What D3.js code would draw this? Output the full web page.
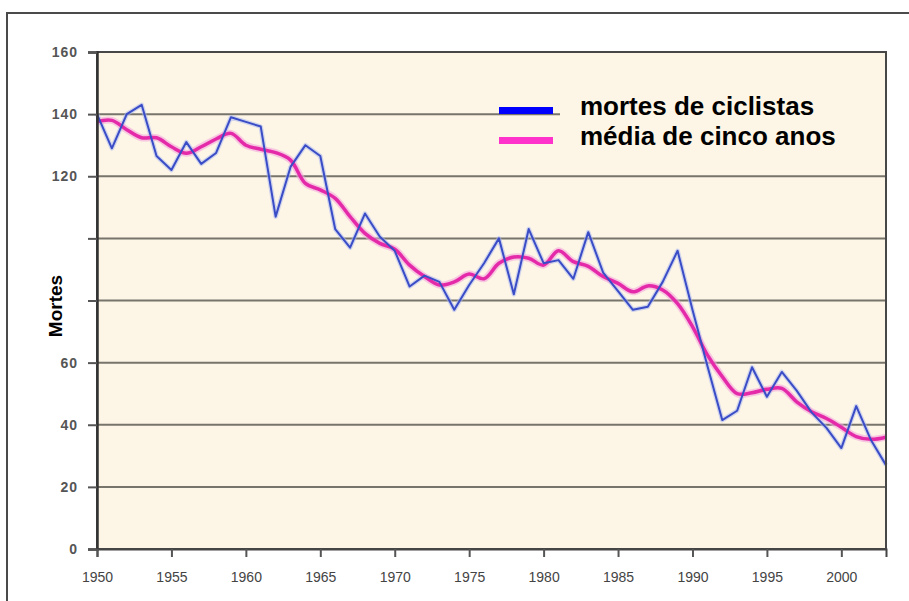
<!DOCTYPE html>
<html>
<head>
<meta charset="utf-8">
<script src="https://cdn.jsdelivr.net/npm/d3@7/dist/d3.min.js"></script>
<style>
  body { margin: 0; background: #fff; }
  svg { display: block; font-family: "Liberation Sans", Arial, sans-serif; }
</style>
</head>
<body>
<div class="chart"></div>
<script>
// 資料: 每年自行車死亡人數 + 五年平均
const years = [1950,1951,1952,1953,1954,1955,1956,1957,1958,1959,
               1960,1961,1962,1963,1964,1965,1966,1967,1968,1969,
               1970,1971,1972,1973,1974,1975,1976,1977,1978,1979,
               1980,1981,1982,1983,1984,1985,1986,1987,1988,1989,
               1990,1991,1992,1993,1994,1995,1996,1997,1998,1999,
               2000,2001,2002,2003];
const deaths = [140,129,140,143,126.5,122,131,124,127.5,139,
                137.5,136,107,123,130,126.5,103,97,108,100.5,
                96,84.5,88,86,77,85,92,100,82,103,
                92,93,87,102,89,83,77,78,86,96,
                77,59,41.5,44.5,58.5,49,57,51,44,39,
                32.5,46,35,27];
const avg5 = [137.6,138,135,132.4,132.4,129.5,127.4,129.5,132,133.8,
              130,128.7,127.6,125.2,117.7,115.6,112.9,107,101.6,98.4,
              96.5,91.4,87.7,85,86,88.5,87,92,94,93.6,
              91.4,96,92.5,91,87.7,85.5,82.8,84.7,83.4,79,
              71.6,62.5,55.5,50,50.3,51.4,51.7,47.4,44.2,42,
              39.2,36.2,35.3,36];
const yTicks = [0,20,40,60,80,100,120,140,160];
const yTickLabels = ['0','20','40','60','','','120','140','160'];   // 80,100 在原圖看不到
const xTicks = [1950,1955,1960,1965,1970,1975,1980,1985,1990,1995,2000];
const seriesNames = ['mortes de ciclistas','média de cinco anos'];
const yTitle = 'Mortes';

const svg_width = 909, svg_height = 601;
const plot = {left: 97, right: 886, top: 52, bottom: 549};

const svg = d3.select('.chart').append('svg')
              .attr('width', svg_width).attr('height', svg_height);

// 外框
svg.append('path')
   .attr('d', `M7,${svg_height} L7,13 L${svg_width},13`)
   .attr('fill','none').attr('stroke','#4a4a4a').attr('stroke-width',2);

const xScale = d3.scaleLinear([1950, 2003], [plot.left, plot.right]);
const yScale = d3.scaleLinear([0, 160], [plot.bottom, plot.top]);

// 背景
svg.append('rect')
   .attr('x', plot.left).attr('y', plot.top)
   .attr('width', plot.right - plot.left).attr('height', plot.bottom - plot.top)
   .attr('fill', '#fdf5e5');

// grid
svg.append('g').selectAll('line')
   .data(yTicks.filter(d => d > 0 && d < 160))
   .join('line')
   .attr('x1', plot.left).attr('x2', plot.right)
   .attr('y1', d => yScale(d)).attr('y2', d => yScale(d))
   .attr('stroke', '#77746c').attr('stroke-width', 2);

// 圖例底色蓋住 gridline
svg.append('rect')
   .attr('x', 560).attr('y', 64).attr('width', plot.right - 561).attr('height', 94)
   .attr('fill', '#fdf5e5');

// lines
const line = d3.line().x((d, i) => xScale(years[i])).y(d => yScale(d));
const smooth = d3.line().x((d, i) => xScale(years[i])).y(d => yScale(d))
                 .curve(d3.curveCatmullRom.alpha(0.5));

const lines = svg.append('g');
lines.append('path').datum(deaths).attr('d', line)
     .attr('fill','none').attr('stroke','#a9b8f2').attr('stroke-width',4.5)
     .attr('stroke-opacity',0.55).attr('stroke-linejoin','round');
lines.append('path').datum(avg5).attr('d', smooth)
     .attr('fill','none').attr('stroke','#f4a6dc').attr('stroke-width',7)
     .attr('stroke-opacity',0.6).attr('stroke-linejoin','round');
lines.append('path').datum(avg5).attr('d', smooth)
     .attr('fill','none').attr('stroke','#e42aa8').attr('stroke-width',3.5)
     .attr('stroke-linejoin','round');
lines.append('path').datum(deaths).attr('d', line)
     .attr('fill','none').attr('stroke','#3a4cc6').attr('stroke-width',2)
     .attr('stroke-linejoin','round');

// plot 邊框
svg.append('rect')
   .attr('x', plot.left).attr('y', plot.top)
   .attr('width', plot.right - plot.left).attr('height', plot.bottom - plot.top)
   .attr('fill','none').attr('stroke','#474747').attr('stroke-width',2);

// axes
const yAxis = d3.axisLeft(yScale).tickValues(yTicks)
                .tickFormat((d, i) => yTickLabels[i])
                .tickSize(9).tickPadding(10);
const yAxisDraw = svg.append('g').attr('transform', `translate(${plot.left},0)`).call(yAxis);
yAxisDraw.select('.domain').attr('stroke','#333').attr('stroke-width',2.5);
yAxisDraw.selectAll('.tick line').attr('stroke','#555').attr('stroke-width',2);
yAxisDraw.selectAll('text')
         .style('font-size','14px').style('font-weight','bold')
         .style('letter-spacing','1px').attr('fill','#555')
         .style('font-family','"Liberation Sans", Arial, sans-serif');

const xAxis = d3.axisBottom(xScale).tickValues(xTicks)
                .tickFormat(d3.format('d'))
                .tickSize(8).tickPadding(15);
const xAxisDraw = svg.append('g').attr('transform', `translate(0,${plot.bottom})`).call(xAxis);
xAxisDraw.select('.domain').attr('stroke','#444').attr('stroke-width',2);
xAxisDraw.selectAll('.tick line').attr('stroke','#555').attr('stroke-width',2);
xAxisDraw.selectAll('text')
         .style('font-size','14px').attr('fill','#444')
         .style('font-family','"Liberation Sans", Arial, sans-serif');

// y title
svg.append('text')
   .attr('transform','translate(62,306) rotate(-90)')
   .attr('text-anchor','middle')
   .style('font-size','19px').style('font-weight','bold')
   .attr('fill','#000')
   .text(yTitle);

// legend
const legendColors = ['#0000ff','#ff33cc'];
const legend = svg.append('g').selectAll('g')
                  .data(seriesNames).join('g')
                  .attr('transform', (d, i) => `translate(499,${107 + i*30})`);
legend.append('rect')
      .attr('width', 54).attr('height', 7)
      .attr('fill', (d, i) => legendColors[i]);
legend.append('text')
      .attr('x', 81).attr('y', 8)
      .style('font-size','26px').style('font-weight','bold')
      .attr('fill','#000')
      .text(d => d);
</script>
</body>
</html>
